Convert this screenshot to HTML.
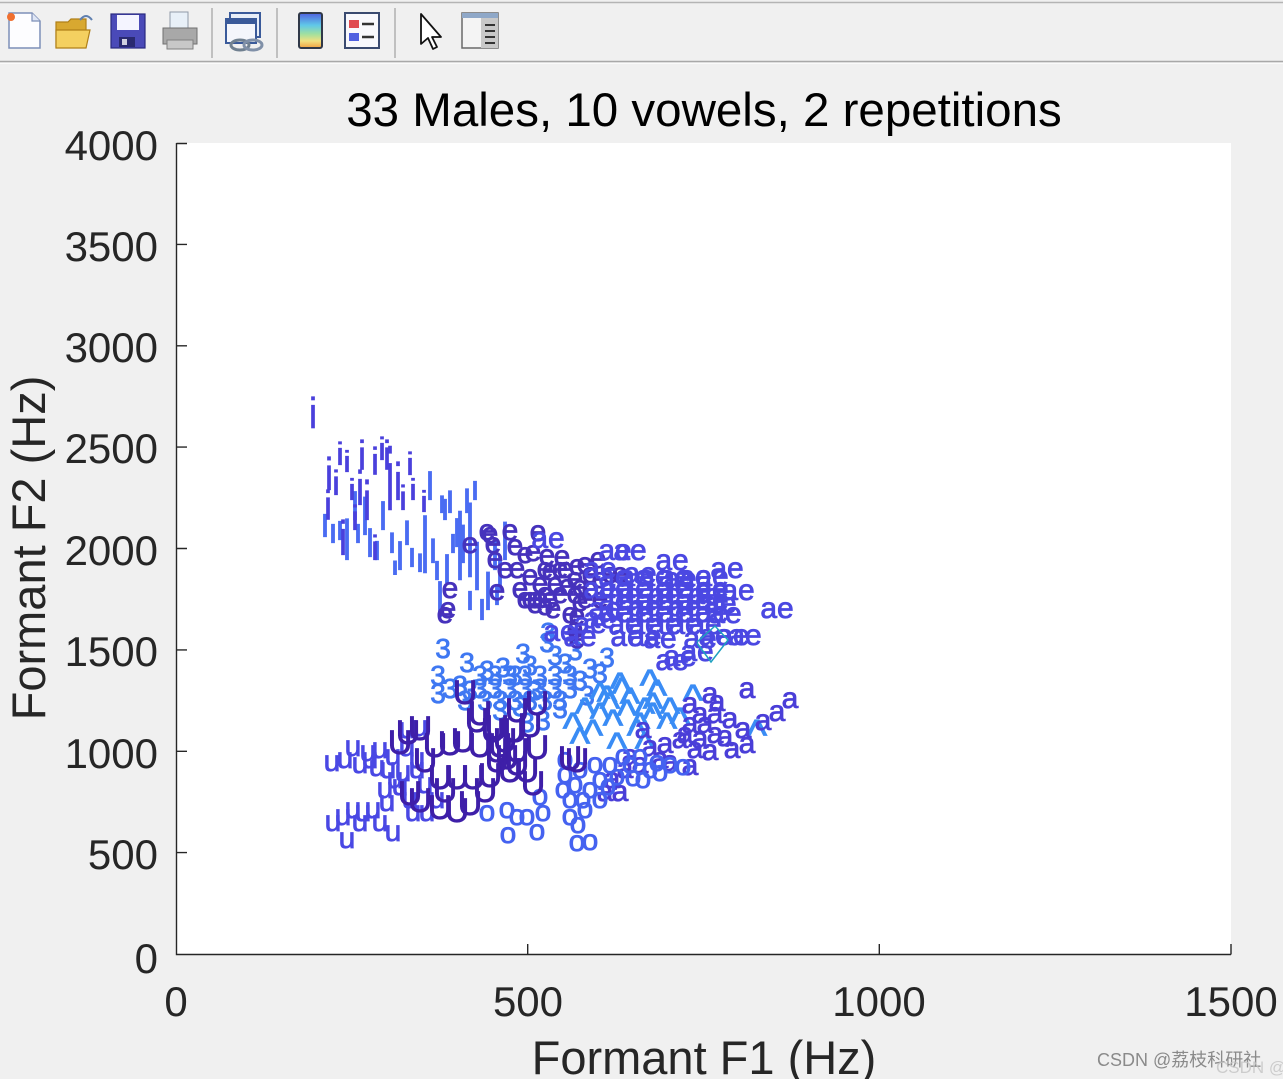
<!DOCTYPE html>
<html><head><meta charset="utf-8"><style>
html,body{margin:0;padding:0;background:#f0f0f0;}
svg{display:block;}
text{font-family:"Liberation Sans",Arial,"Noto Sans CJK SC",sans-serif;}
.pts text{text-anchor:middle;}
.pts g{stroke-width:0.8;}
.pts g.bar{stroke-width:0.2;}
</style></head><body>
<svg width="1283" height="1079" viewBox="0 0 1283 1079" xmlns="http://www.w3.org/2000/svg">
<rect x="0" y="0" width="1283" height="1079" fill="#f0f0f0"/>
<!-- toolbar -->
<line x1="0" y1="2.5" x2="1283" y2="2.5" stroke="#b4b4b4" stroke-width="1.5"/>
<line x1="0" y1="61.5" x2="1283" y2="61.5" stroke="#a8a8a8" stroke-width="1.5"/>
<line x1="0" y1="63.5" x2="1283" y2="63.5" stroke="#fafafa" stroke-width="1"/>
<g stroke="#b0b0b0" stroke-width="1.5">
<line x1="212" y1="8" x2="212" y2="58"/><line x1="277" y1="8" x2="277" y2="58"/><line x1="395" y1="8" x2="395" y2="58"/>
</g>
<path d="M9 13 H32 L40 21 V48 H9 Z" fill="#fdfdff" stroke="#7d8fb8" stroke-width="1.5"/>
<path d="M32 13 V21 H40" fill="#dfe6f5" stroke="#7d8fb8" stroke-width="1.2"/>
<circle cx="11" cy="17" r="4" fill="#f07030"/>
<path d="M56 22 H68 L71 19 H86 V47 H56 Z" fill="#d8a830" stroke="#b08018" stroke-width="1.2"/>
<path d="M56 30 H90 L86 48 H56 Z" fill="#f4d060" stroke="#b08018" stroke-width="1.2"/>
<path d="M80 20 Q86 12 92 20" fill="none" stroke="#6080b0" stroke-width="2"/>
<rect x="111" y="14" width="34" height="34" fill="#4a4ab8" stroke="#2a2a80" stroke-width="1.2"/>
<rect x="117" y="15" width="22" height="15" fill="#f4f4ff"/>
<rect x="119" y="37" width="16" height="10" fill="#2a2a70"/>
<rect x="122" y="39" width="5" height="6" fill="#d0d0e0"/>
<rect x="170" y="12" width="18" height="16" fill="#e8f0f8" stroke="#909aa8"/>
<path d="M163 28 H197 V44 H163 Z" fill="#a8a8a8" stroke="#707070"/>
<rect x="167" y="40" width="26" height="9" fill="#c8c8c8" stroke="#808080"/>
<rect x="230" y="13" width="30" height="24" fill="#e8eef8" stroke="#3a5a9a" stroke-width="2"/>
<rect x="226" y="19" width="30" height="24" fill="#f4f6fc" stroke="#3a5a9a" stroke-width="2"/>
<rect x="226" y="19" width="30" height="5" fill="#3a5a9a"/>
<ellipse cx="240" cy="45" rx="9" ry="5" fill="none" stroke="#708090" stroke-width="3"/>
<ellipse cx="253" cy="45" rx="9" ry="5" fill="none" stroke="#8090a8" stroke-width="3"/>
<defs><linearGradient id="cb" x1="0" y1="0" x2="0" y2="1">
<stop offset="0" stop-color="#5060e0"/><stop offset="0.35" stop-color="#60c8e8"/><stop offset="0.6" stop-color="#a0e0a0"/><stop offset="0.8" stop-color="#f0e080"/><stop offset="1" stop-color="#f0a040"/></linearGradient></defs>
<rect x="299" y="13" width="23" height="35" rx="2" fill="url(#cb)" stroke="#303848" stroke-width="2"/>
<rect x="345" y="13" width="34" height="35" fill="#f8f8fc" stroke="#3a4a70" stroke-width="2"/>
<rect x="349" y="20" width="10" height="8" fill="#e04a50"/><rect x="349" y="33" width="10" height="8" fill="#5060e0"/>
<line x1="362" y1="24" x2="374" y2="24" stroke="#333" stroke-width="2.5"/><line x1="362" y1="37" x2="374" y2="37" stroke="#333" stroke-width="2.5"/>
<path d="M421 14 L421 44 L428 38 L433 49 L437 47 L432 37 L441 37 Z" fill="#fff" stroke="#111" stroke-width="1.8" stroke-linejoin="round"/>
<rect x="462" y="13" width="36" height="35" fill="#f4f4f4" stroke="#6a6a6a" stroke-width="1.5"/>
<rect x="462" y="13" width="36" height="5" fill="#8fa8c8"/>
<rect x="481" y="18" width="17" height="30" fill="#c8c8c8"/>
<g stroke="#333" stroke-width="2"><line x1="485" y1="25" x2="495" y2="25"/><line x1="485" y1="31" x2="495" y2="31"/><line x1="485" y1="37" x2="495" y2="37"/><line x1="485" y1="43" x2="495" y2="43"/></g>

<!-- plot area -->
<rect x="176" y="143" width="1055" height="811" fill="#ffffff"/>
<text x="704" y="126" font-size="47.5" text-anchor="middle" fill="#000">33 Males, 10 vowels, 2 repetitions</text>

<g class="pts">
<!-- I bars -->
<g class="bar" fill="#4a6cf2" stroke="#4a6cf2" font-size="36">
<text transform="translate(325,537) scale(1.1,0.93)">I</text>
<text transform="translate(333,543) scale(1.1,0.78)">I</text>
<text transform="translate(340,540) scale(1.1,0.78)">I</text>
<text transform="translate(347,560) scale(1.1,1.67)">I</text>
<text transform="translate(358,543) scale(1.1,0.78)">I</text>
<text transform="translate(370,557) scale(1.1,1.16)">I</text>
<text transform="translate(377,560) scale(1.1,0.78)">I</text>
<text transform="translate(392,553) scale(1.1,0.81)">I</text>
<text transform="translate(400,570) scale(1.1,1.16)">I</text>
<text transform="translate(412,567) scale(1.1,0.78)">I</text>
<text transform="translate(420,572) scale(1.1,0.74)">I</text>
<text transform="translate(425,573) scale(1.1,2.33)">I</text>
<text transform="translate(433,563) scale(1.1,0.97)">I</text>
<text transform="translate(437,580) scale(1.1,0.78)">I</text>
<text transform="translate(440,617) scale(1.1,1.43)">I</text>
<text transform="translate(442,513) scale(1.1,0.7)">I</text>
<text transform="translate(445,520) scale(1.1,0.85)">I</text>
<text transform="translate(450,513) scale(1.1,0.89)">I</text>
<text transform="translate(453,553) scale(1.1,0.78)">I</text>
<text transform="translate(447,583) scale(1.1,1.16)">I</text>
<text transform="translate(457,547) scale(1.1,1.16)">I</text>
<text transform="translate(460,580) scale(1.1,2.79)">I</text>
<text transform="translate(463,563) scale(1.1,1.55)">I</text>
<text transform="translate(467,513) scale(1.1,0.97)">I</text>
<text transform="translate(470,577) scale(1.1,2.98)">I</text>
<text transform="translate(475,500) scale(1.1,0.78)">I</text>
<text transform="translate(477,590) scale(1.1,1.94)">I</text>
<text transform="translate(482,620) scale(1.1,0.85)">I</text>
<text transform="translate(488,610) scale(1.1,1.55)">I</text>
<text transform="translate(355,520) scale(1.1,1.16)">I</text>
<text transform="translate(365,535) scale(1.1,1.55)">I</text>
<text transform="translate(383,530) scale(1.1,1.16)">I</text>
<text transform="translate(395,575) scale(1.1,0.58)">I</text>
<text transform="translate(407,545) scale(1.1,0.97)">I</text>
<text transform="translate(430,500) scale(1.1,1.16)">I</text>
<text transform="translate(470,610) scale(1.1,0.78)">I</text>
<text transform="translate(495,570) scale(1.1,1.16)">I</text>
<text transform="translate(500,590) scale(1.1,1.36)">I</text>
<text transform="translate(505,560) scale(1.1,1.55)">I</text>
<text transform="translate(497,605) scale(1.1,0.78)">I</text>
</g>
<!-- i -->
<g class="bar" fill="#4a40dc" stroke="#4a40dc" font-size="36">
<text transform="translate(313,428) scale(1.1,1.2)">i</text>
<text transform="translate(329,490) scale(1.1,1.28)">i</text>
<text transform="translate(340,465) scale(1.1,0.89)">i</text>
<text transform="translate(347,472) scale(1.1,0.85)">i</text>
<text transform="translate(336,495) scale(1.1,0.97)">i</text>
<text transform="translate(352,500) scale(1.1,0.85)">i</text>
<text transform="translate(360,505) scale(1.1,1.36)">i</text>
<text transform="translate(367,520) scale(1.1,1.55)">i</text>
<text transform="translate(375,475) scale(1.1,1.09)">i</text>
<text transform="translate(382,460) scale(1.1,0.89)">i</text>
<text transform="translate(387,470) scale(1.1,1.16)">i</text>
<text transform="translate(390,510) scale(1.1,2.44)">i</text>
<text transform="translate(398,500) scale(1.1,1.47)">i</text>
<text transform="translate(410,475) scale(1.1,0.89)">i</text>
<text transform="translate(413,500) scale(1.1,0.85)">i</text>
<text transform="translate(424,512) scale(1.1,0.85)">i</text>
<text transform="translate(343,555) scale(1.1,1.36)">i</text>
<text transform="translate(355,530) scale(1.1,0.97)">i</text>
<text transform="translate(375,560) scale(1.1,0.97)">i</text>
<text transform="translate(328,520) scale(1.1,1.16)">i</text>
<text transform="translate(362,470) scale(1.1,1.16)">i</text>
<text transform="translate(403,510) scale(1.1,0.97)">i</text>
</g>
<!-- 3 -->
<g fill="#3f78f2" stroke="#3f78f2" font-size="28" transform="translate(0,1)">
<text x="443" y="657">3</text><text x="467" y="671">3</text><text x="438" y="684">3</text><text x="438" y="702">3</text>
<text x="460" y="694">3</text><text x="487" y="679">3</text><text x="503" y="676">3</text><text x="523" y="662">3</text>
<text x="547" y="651">3</text><text x="607" y="666">3</text><text x="600" y="682">3</text><text x="587" y="704">3</text>
<text x="527" y="731">3</text><text x="543" y="729">3</text><text x="548" y="641">3</text><text x="575" y="659">3</text>
<text x="555" y="664">3</text><text x="530" y="674">3</text><text x="515" y="684">3</text>
<text x="480" y="684">3</text><text x="495" y="684">3</text><text x="510" y="684">3</text><text x="525" y="684">3</text><text x="540" y="684">3</text><text x="555" y="684">3</text><text x="570" y="684">3</text>
<text x="480" y="697">3</text><text x="495" y="697">3</text><text x="510" y="697">3</text><text x="525" y="697">3</text><text x="540" y="697">3</text><text x="555" y="697">3</text><text x="570" y="697">3</text>
<text x="485" y="709">3</text><text x="500" y="709">3</text><text x="515" y="709">3</text><text x="530" y="709">3</text><text x="545" y="709">3</text><text x="560" y="709">3</text>
<text x="450" y="697">3</text><text x="470" y="699">3</text><text x="465" y="709">3</text><text x="500" y="719">3</text><text x="520" y="715">3</text>
<text x="560" y="717">3</text><text x="580" y="689">3</text><text x="590" y="677">3</text><text x="535" y="699">3</text><text x="565" y="672">3</text>
</g>
<!-- ^ -->
<g fill="#3a8cf5" stroke="#3a8cf5" font-size="44" transform="translate(0,4)">
<text x="620" y="699">^</text><text x="650" y="696">^</text><text x="607" y="712">^</text><text x="573" y="739">^</text>
<text x="593" y="746">^</text><text x="600" y="729">^</text><text x="627" y="726">^</text><text x="653" y="719">^</text>
<text x="640" y="739">^</text><text x="667" y="739">^</text><text x="600" y="709">^</text><text x="622" y="704">^</text>
<text x="657" y="706">^</text><text x="613" y="736">^</text><text x="637" y="746">^</text><text x="653" y="729">^</text>
<text x="693" y="711">^</text><text x="757" y="746">^</text><text x="585" y="724">^</text><text x="630" y="714">^</text>
<text x="610" y="719">^</text><text x="645" y="724">^</text><text x="670" y="724">^</text><text x="680" y="734">^</text>
<text x="617" y="759">^</text><text x="580" y="754">^</text><text x="645" y="759">^</text>
</g>
<!-- e -->
<g fill="#4632bc" stroke="#4632bc" font-size="30" transform="translate(0,1)">
<text x="445" y="622">e</text><text x="448" y="617">e</text><text x="450" y="597">e</text><text x="487" y="539">e</text>
<text x="510" y="539">e</text><text x="538" y="540">e</text><text x="493" y="552">e</text><text x="515" y="554">e</text>
<text x="533" y="560">e</text><text x="547" y="564">e</text><text x="562" y="565">e</text><text x="517" y="577">e</text>
<text x="530" y="584">e</text><text x="550" y="579">e</text><text x="565" y="577">e</text><text x="577" y="574">e</text>
<text x="567" y="594">e</text><text x="540" y="607">e</text><text x="530" y="607">e</text><text x="553" y="617">e</text>
<text x="577" y="624">e</text><text x="580" y="610">e</text><text x="497" y="599">e</text><text x="470" y="552">e</text>
<text x="490" y="542">e</text><text x="525" y="562">e</text><text x="545" y="577">e</text><text x="560" y="577">e</text>
<text x="585" y="572">e</text><text x="535" y="607">e</text><text x="550" y="607">e</text><text x="575" y="602">e</text>
<text x="590" y="597">e</text><text x="600" y="607">e</text><text x="570" y="622">e</text><text x="520" y="597">e</text>
<text x="525" y="607">e</text><text x="545" y="602">e</text><text x="560" y="602">e</text><text x="590" y="582">e</text>
<text x="600" y="587">e</text><text x="610" y="582">e</text><text x="495" y="567">e</text><text x="505" y="577">e</text>
<text x="540" y="592">e</text><text x="555" y="592">e</text><text x="575" y="587">e</text><text x="585" y="607">e</text>
<text x="598" y="567">e</text><text x="620" y="582">e</text><text x="575" y="637">e</text><text x="577" y="647">e</text>
<text x="535" y="612">e</text><text x="545" y="614">e</text><text x="580" y="595">e</text>
</g>
<!-- ae -->
<g fill="#4b48e2" stroke="#4b48e2" font-size="30" transform="translate(0,1)">
<text x="548" y="547">ae</text><text x="615" y="559">ae</text><text x="630" y="559">ae</text><text x="672" y="569">ae</text>
<text x="727" y="577">ae</text><text x="712" y="599">ae</text><text x="738" y="599">ae</text><text x="777" y="617">ae</text>
<text x="560" y="640">ae</text><text x="580" y="645">ae</text><text x="627" y="645">ae</text><text x="645" y="645">ae</text>
<text x="733" y="644">ae</text><text x="672" y="669">ae</text><text x="697" y="660">ae</text><text x="680" y="665">ae</text>
<text x="660" y="647">ae</text><text x="700" y="647">ae</text><text x="715" y="644">ae</text><text x="745" y="644">ae</text>
<text x="615" y="585">ae</text><text x="635" y="585">ae</text><text x="655" y="585">ae</text><text x="675" y="585">ae</text><text x="695" y="585">ae</text><text x="712" y="585">ae</text>
<text x="615" y="597">ae</text><text x="635" y="597">ae</text><text x="655" y="597">ae</text><text x="675" y="597">ae</text><text x="695" y="597">ae</text><text x="712" y="597">ae</text>
<text x="615" y="609">ae</text><text x="635" y="609">ae</text><text x="655" y="609">ae</text><text x="675" y="609">ae</text><text x="695" y="609">ae</text><text x="712" y="609">ae</text>
<text x="615" y="621">ae</text><text x="635" y="621">ae</text><text x="655" y="621">ae</text><text x="675" y="621">ae</text><text x="695" y="621">ae</text><text x="712" y="621">ae</text>
<text x="625" y="633">ae</text><text x="645" y="633">ae</text><text x="665" y="633">ae</text><text x="685" y="633">ae</text><text x="705" y="633">ae</text>
<text x="600" y="597">ae</text><text x="605" y="617">ae</text><text x="720" y="612">ae</text><text x="725" y="622">ae</text>
<text x="600" y="577">ae</text><text x="640" y="582">ae</text><text x="680" y="587">ae</text><text x="590" y="632">ae</text><text x="600" y="627">ae</text>
<text x="625" y="603">ae</text><text x="665" y="603">ae</text><text x="705" y="603">ae</text><text x="645" y="615">ae</text><text x="685" y="615">ae</text>
</g>
<!-- a -->
<g fill="#4a3ed8" stroke="#4a3ed8" font-size="30" transform="translate(0,1)">
<text x="747" y="697">a</text><text x="790" y="707">a</text><text x="777" y="720">a</text><text x="763" y="729">a</text>
<text x="747" y="752">a</text><text x="732" y="757">a</text><text x="710" y="759">a</text><text x="690" y="774">a</text>
<text x="690" y="712">a</text><text x="717" y="710">a</text><text x="730" y="727">a</text><text x="743" y="737">a</text>
<text x="643" y="737">a</text><text x="630" y="764">a</text><text x="620" y="800">a</text><text x="660" y="767">a</text>
<text x="670" y="770">a</text><text x="680" y="747">a</text><text x="700" y="747">a</text><text x="690" y="732">a</text>
<text x="705" y="732">a</text><text x="715" y="742">a</text><text x="695" y="757">a</text><text x="725" y="745">a</text>
<text x="685" y="742">a</text><text x="700" y="722">a</text><text x="715" y="722">a</text><text x="650" y="755">a</text>
<text x="640" y="772">a</text><text x="612" y="787">a</text><text x="625" y="777">a</text><text x="665" y="752">a</text>
<text x="605" y="800">a</text><text x="710" y="702">a</text>
</g>
<!-- o -->
<g fill="#4562f0" stroke="#4562f0" font-size="30" transform="translate(0,1)">
<text x="563" y="797">o</text><text x="583" y="807">o</text><text x="570" y="824">o</text><text x="578" y="832">o</text>
<text x="577" y="850">o</text><text x="590" y="849">o</text><text x="608" y="794">o</text><text x="617" y="784">o</text>
<text x="633" y="785">o</text><text x="643" y="787">o</text><text x="623" y="764">o</text><text x="640" y="764">o</text>
<text x="657" y="770">o</text><text x="660" y="780">o</text><text x="683" y="774">o</text><text x="487" y="820">o</text>
<text x="507" y="817">o</text><text x="508" y="842">o</text><text x="537" y="839">o</text><text x="517" y="824">o</text>
<text x="527" y="824">o</text><text x="540" y="804">o</text><text x="543" y="820">o</text><text x="565" y="782">o</text>
<text x="575" y="792">o</text><text x="590" y="797">o</text><text x="600" y="787">o</text><text x="580" y="777">o</text>
<text x="595" y="772">o</text><text x="570" y="807">o</text><text x="585" y="817">o</text><text x="600" y="807">o</text>
<text x="610" y="772">o</text><text x="630" y="772">o</text><text x="650" y="777">o</text><text x="670" y="772">o</text>
<text x="565" y="767">o</text>
</g>
<!-- u -->
<g fill="#4a48e4" stroke="#4a48e4" font-size="30" transform="translate(0,1)">
<text x="332" y="770">u</text><text x="353" y="755">u</text><text x="368" y="760">u</text><text x="380" y="757">u</text>
<text x="393" y="764">u</text><text x="407" y="755">u</text><text x="417" y="767">u</text><text x="377" y="775">u</text>
<text x="388" y="777">u</text><text x="403" y="780">u</text><text x="417" y="777">u</text><text x="370" y="767">u</text>
<text x="407" y="737">u</text><text x="420" y="735">u</text><text x="333" y="830">u</text><text x="343" y="824">u</text>
<text x="353" y="817">u</text><text x="363" y="820">u</text><text x="373" y="817">u</text><text x="380" y="830">u</text>
<text x="387" y="810">u</text><text x="393" y="840">u</text><text x="347" y="847">u</text><text x="360" y="830">u</text>
<text x="413" y="820">u</text><text x="427" y="820">u</text><text x="437" y="807">u</text><text x="400" y="794">u</text>
<text x="410" y="807">u</text><text x="395" y="787">u</text><text x="385" y="797">u</text><text x="425" y="792">u</text>
<text x="360" y="772">u</text><text x="345" y="767">u</text>
</g>
<!-- U -->
<g fill="#3e1fa8" stroke="#3e1fa8" font-size="34" transform="translate(0,1)">
<text x="465" y="703">U</text><text x="480" y="724">U</text><text x="517" y="721">U</text><text x="537" y="714">U</text>
<text x="577" y="771">U</text><text x="493" y="741">U</text><text x="505" y="751">U</text><text x="517" y="761">U</text>
<text x="497" y="771">U</text><text x="510" y="781">U</text><text x="500" y="756">U</text><text x="515" y="741">U</text>
<text x="408" y="743">U</text><text x="420" y="739">U</text><text x="400" y="753">U</text><text x="450" y="754">U</text>
<text x="463" y="751">U</text><text x="477" y="731">U</text><text x="497" y="738">U</text><text x="513" y="741">U</text>
<text x="537" y="758">U</text><text x="440" y="788">U</text><text x="457" y="788">U</text><text x="473" y="788">U</text>
<text x="410" y="804">U</text><text x="440" y="818">U</text><text x="457" y="821">U</text><text x="470" y="814">U</text>
<text x="533" y="794">U</text><text x="507" y="768">U</text><text x="497" y="761">U</text><text x="517" y="774">U</text>
<text x="527" y="781">U</text><text x="490" y="786">U</text><text x="485" y="801">U</text><text x="425" y="771">U</text>
<text x="435" y="756">U</text><text x="480" y="756">U</text><text x="530" y="736">U</text><text x="570" y="769">U</text>
<text x="445" y="801">U</text><text x="420" y="811">U</text>
</g>
</g>
<polyline points="697,642 715,626 728,640 711,662 697,643" fill="none" stroke="#1ea0c0" stroke-width="1.5"/>

<!-- axes -->
<g stroke="#262626" stroke-width="1.4" fill="none">
<path d="M176.5 143 V954.5 H1231"/>
<path d="M1231 954.5 V944 M879.3 954.5 V944 M527.7 954.5 V944"/>
<path d="M176.5 143.5 H187 M176.5 244.4 H187 M176.5 345.8 H187 M176.5 447.1 H187 M176.5 548.5 H187 M176.5 649.9 H187 M176.5 751.3 H187 M176.5 852.6 H187"/>
</g>
<g fill="#262626" font-size="42" text-anchor="end">
<text x="158" y="160">4000</text><text x="158" y="261">3500</text><text x="158" y="362">3000</text>
<text x="158" y="463">2500</text><text x="158" y="565">2000</text><text x="158" y="666">1500</text>
<text x="158" y="768">1000</text><text x="158" y="869">500</text><text x="158" y="973">0</text>
</g>
<g fill="#262626" font-size="42" text-anchor="middle">
<text x="176" y="1016">0</text><text x="528" y="1016">500</text><text x="879" y="1016">1000</text><text x="1231" y="1016">1500</text>
</g>
<text x="704" y="1074" font-size="47" text-anchor="middle" fill="#262626">Formant F1 (Hz)</text>
<text transform="translate(45,548) rotate(-90)" font-size="47" text-anchor="middle" fill="#262626">Formant F2 (Hz)</text>
<text x="1097" y="1066" font-size="18" fill="#8a8a8a">CSDN @荔枝科研社</text>
<text x="1216" y="1073" font-size="17" fill="#c4c4c4" opacity="0.8">CSDN @</text>
</svg>
</body></html>
